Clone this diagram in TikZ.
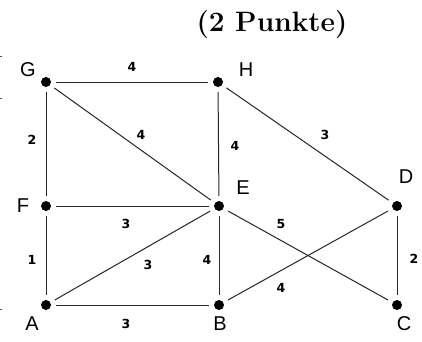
\documentclass[tikz,border=0pt]{standalone}
\usepackage{fontspec}
\newfontfamily\labfont{Liberation Sans}
\newfontfamily\numfont{DejaVu Sans}[BoldFont={DejaVu Sans Bold}]
\begin{document}
\begin{tikzpicture}[x=1pt,y=-1pt,
  vtx/.style={circle,fill=black,inner sep=0pt,minimum size=10pt},
  edge/.style={line width=1pt,draw=black!85,shorten >=5pt,shorten <=5pt},
  vlab/.style={font=\labfont\fontsize{20}{22}\selectfont,inner sep=0pt},
  wlab/.style={font=\numfont\bfseries\fontsize{12.5}{14}\selectfont,inner sep=0pt},
  tick/.style={line width=0.8pt,draw=black!70}]
\useasboundingbox (0,0) rectangle (422,341);
\node[font=\bfseries\fontsize{28}{32}\selectfont,inner sep=0pt] (title) at (272,25) {(2 Punkte)};
% vertices
\node[vtx] (G) at (46,82) {};
\node[vtx] (H) at (218,82) {};
\node[vtx] (F) at (46,206) {};
\node[vtx] (E) at (219,206) {};
\node[vtx] (D) at (397,206) {};
\node[vtx] (A) at (46,305) {};
\node[vtx] (B) at (219,305) {};
\node[vtx] (C) at (397,305) {};
% vertex labels
\node[vlab] (lG) at (28,70) {G};
\node[vlab] (lH) at (246,70) {H};
\node[vlab] (lE) at (243,188) {E};
\node[vlab] (lD) at (406,177) {D};
\node[vlab] (lF) at (23,206) {F};
\node[vlab] (lA) at (32,324) {A};
\node[vlab] (lB) at (220,324) {B};
\node[vlab] (lC) at (404,324) {C};
% edges
\draw[edge] (G) -- (H);
\draw[edge] (G) -- (F);
\draw[edge] (G) -- (E);
\draw[edge] (H) -- (E);
\draw[edge] (H) -- (D);
\draw[edge] (F) -- (E);
\draw[edge] (E) -- (C);
\draw[edge] (F) -- (A);
\draw[edge] (A) -- (E);
\draw[edge] (E) -- (B);
\draw[edge] (B) -- (D);
\draw[edge] (D) -- (C);
\draw[edge] (A) -- (B);
% weights
\node[wlab] (wGH) at (132,67) {4};
\node[wlab] (wGF) at (32,140) {2};
\node[wlab] (wGE) at (141,135) {4};
\node[wlab] (wHE) at (235,146) {4};
\node[wlab] (wHD) at (325,135) {3};
\node[wlab] (wFE) at (126,224) {3};
\node[wlab] (wEC) at (281,224) {5};
\node[wlab] (wFA) at (32,260) {1};
\node[wlab] (wAE) at (148,265) {3};
\node[wlab] (wEB) at (207,260) {4};
\node[wlab] (wBD) at (281,288) {4};
\node[wlab] (wDC) at (414,259) {2};
\node[wlab] (wAB) at (126,324) {3};
% small marks at the left edge
\coordinate (t1a) at (0,56); \coordinate (t1b) at (2,56);
\coordinate (t2a) at (0,98); \coordinate (t2b) at (2,98);
\coordinate (t3a) at (0,309); \coordinate (t3b) at (2,309);
\draw[tick] (t1a) -- (t1b);
\draw[tick] (t2a) -- (t2b);
\draw[tick] (t3a) -- (t3b);
\end{tikzpicture}
\end{document}
